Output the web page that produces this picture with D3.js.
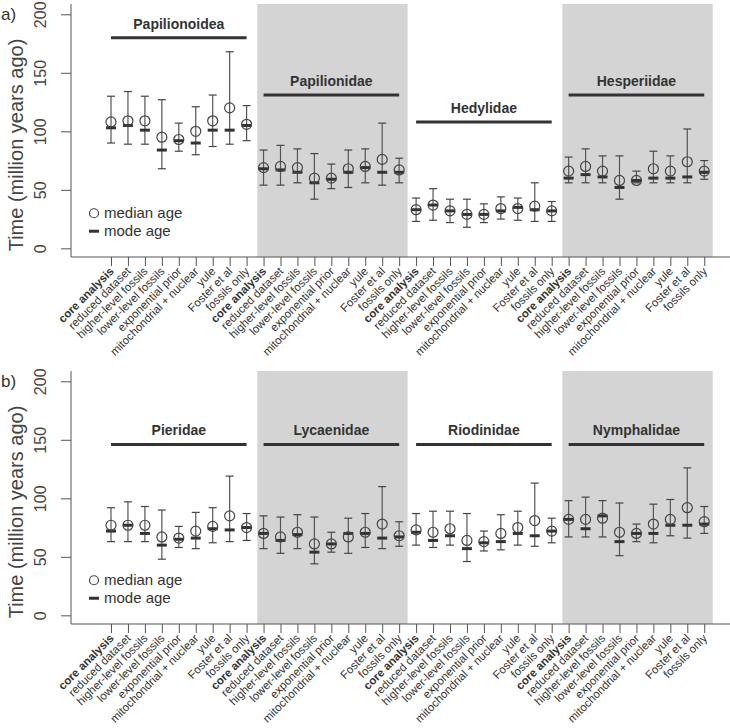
<!DOCTYPE html>
<html>
<head>
<meta charset="utf-8">
<script src="https://cdn.jsdelivr.net/npm/d3@7"></script>
<style>
  body { margin: 0; background: #fff; }
  svg { font-family: "Liberation Sans", Arial, Helvetica, sans-serif; }
</style>
</head>
<body>
<div id="chart"></div>
<script>
// analyses repeated for each clade
var analyses = ["core analysis", "reduced dataset", "higher-level fossils", "lower-level fossils",
    "exponential prior", "mitochondrial + nuclear", "yule", "Foster et al", "fossils only"];

var cladesA = ["Papilionoidea", "Papilionidae", "Hedylidae", "Hesperiidae"];
var cladesB = ["Pieridae", "Lycaenidae", "Riodinidae", "Nymphalidae"];
var shaded = [1, 3];               // clade index with grey background
var cladeBarA = [180, 131, 108, 131];
var cladeBarB = [146, 146, 146, 146];
var yTicks = [0, 50, 100, 150, 200];

// panel a) values, 9 analyses per clade
var medianA = [
    108, 109, 109, 95, 93, 100, 109, 120, 106,
    69, 70, 69, 60, 60, 68, 70, 76, 67,
    33, 37, 32, 29, 29, 34, 34, 36, 32,
    66, 70, 66, 58, 58, 68, 66, 74, 66
];
var modeA = [
    103, 105, 101, 84, 92, 90, 101, 101, 105,
    68, 67, 65, 56, 59, 65, 69, 65, 65,
    33, 37, 32, 29, 29, 32, 35, 33, 32,
    60, 63, 61, 52, 58, 60, 60, 61, 65
];
var lowerA = [
    90, 89, 89, 68, 83, 80, 87, 89, 92,
    54, 54, 56, 42, 51, 52, 56, 54, 56,
    23, 24, 22, 18, 22, 25, 24, 23, 23,
    56, 56, 56, 42, 56, 56, 56, 56, 59
];
var upperA = [
    130, 134, 130, 127, 107, 121, 131, 168, 122,
    84, 88, 85, 81, 72, 84, 85, 107, 77,
    43, 51, 42, 42, 38, 44, 43, 56, 40,
    78, 85, 79, 79, 66, 83, 79, 102, 75
];

// panel b) values
var medianB = [
    77, 77, 77, 67, 66, 72, 76, 85, 75,
    70, 67, 71, 61, 61, 67, 71, 78, 68,
    73, 71, 74, 64, 63, 70, 75, 81, 72,
    82, 82, 83, 71, 70, 78, 82, 92, 80
];
var modeB = [
    72, 77, 70, 60, 65, 66, 74, 73, 75,
    70, 64, 69, 54, 61, 70, 70, 66, 67,
    71, 64, 68, 57, 62, 63, 70, 68, 72,
    82, 74, 85, 63, 70, 70, 77, 77, 78
];
var lowerB = [
    63, 63, 63, 48, 58, 57, 62, 63, 64,
    57, 53, 57, 44, 54, 53, 58, 57, 59,
    60, 58, 60, 46, 55, 56, 60, 59, 62,
    67, 67, 67, 51, 63, 62, 68, 66, 70
];
var upperB = [
    92, 97, 93, 90, 76, 88, 92, 119, 87,
    85, 84, 86, 84, 71, 83, 87, 110, 80,
    87, 89, 89, 87, 72, 86, 89, 113, 83,
    98, 101, 98, 96, 78, 95, 99, 126, 93
];

var width = 730, height = 728;
var svg = d3.select("#chart").append("svg")
    .attr("width", width)
    .attr("height", height);

var x = d3.scaleLinear().domain([-2.36, 36.52]).range([71, 730]);

function drawPanel(opts) {
    var top = opts.top;
    var y = d3.scaleLinear().domain([-7.4, 208.8]).range([top + 253, top]);
    var g = svg.append("g");
    var n = analyses.length;

    // grey bands
    shaded.forEach(function (c) {
        g.append("rect")
            .attr("x", x(c * n - 0.37))
            .attr("width", x(c * n + n - 1 + 0.5) - x(c * n - 0.37))
            .attr("y", top)
            .attr("height", y(-7.4) - top)
            .attr("fill", "#d4d4d4");
    });

    // y axis
    var yAxis = d3.axisLeft(y).tickValues(yTicks).tickSize(10).tickFormat(d3.format("d"));
    var gY = g.append("g").attr("transform", "translate(71,0)").call(yAxis);
    gY.select(".domain").remove();
    gY.selectAll(".tick line").attr("stroke", "#555");
    gY.selectAll(".tick text")
        .attr("x", 0).attr("dy", 0)
        .attr("transform", "translate(-25,0) rotate(-90)")
        .attr("text-anchor", "middle")
        .attr("font-size", 16)
        .attr("fill", "#444");

    g.append("line")
        .attr("x1", 71).attr("x2", 71)
        .attr("y1", top).attr("y2", y(-7.4))
        .attr("stroke", "#555");

    // x axis
    var idx = d3.range(opts.median.length);
    var xAxis = d3.axisBottom(x).tickValues(idx).tickSize(9).tickFormat(function (i) { return analyses[i % n]; });
    var gX = g.append("g").attr("transform", "translate(0," + y(-7.4) + ")").call(xAxis);
    gX.select(".domain").remove();
    gX.selectAll(".tick line").attr("stroke", "#555");
    gX.selectAll(".tick text")
        .attr("x", 0).attr("y", 0).attr("dy", 0)
        .attr("transform", "translate(3,15) rotate(-45)")
        .attr("text-anchor", "end")
        .attr("font-size", 11.5)
        .attr("fill", "#333")
        .attr("font-weight", function (i) { return i % n === 0 ? "bold" : "normal"; });

    g.append("line")
        .attr("x1", 71).attr("x2", 730)
        .attr("y1", y(-7.4)).attr("y2", y(-7.4))
        .attr("stroke", "#555");

    // clade bars + names
    opts.clades.forEach(function (name, c) {
        var yy = y(opts.bars[c]);
        g.append("line")
            .attr("x1", x(c * n)).attr("x2", x(c * n + n - 1))
            .attr("y1", yy).attr("y2", yy)
            .attr("stroke", "#333").attr("stroke-width", 3);
        g.append("text")
            .attr("x", (x(c * n) + x(c * n + n - 1)) / 2)
            .attr("y", yy - 9)
            .attr("text-anchor", "middle")
            .attr("font-size", 14).attr("font-weight", "bold")
            .attr("fill", "#333")
            .text(name);
    });

    // error bars
    var pts = g.selectAll(".pt").data(idx).enter().append("g").attr("class", "pt");
    pts.append("line")
        .attr("x1", function (i) { return x(i); }).attr("x2", function (i) { return x(i); })
        .attr("y1", function (i) { return y(opts.lower[i]); })
        .attr("y2", function (i) { return y(opts.upper[i]); })
        .attr("stroke", "#555").attr("stroke-width", 1.2);
    ["lower", "upper"].forEach(function (k) {
        pts.append("line")
            .attr("x1", function (i) { return x(i) - 4; }).attr("x2", function (i) { return x(i) + 4; })
            .attr("y1", function (i) { return y(opts[k][i]); })
            .attr("y2", function (i) { return y(opts[k][i]); })
            .attr("stroke", "#444").attr("stroke-width", 1.2);
    });
    pts.append("line")
        .attr("x1", function (i) { return x(i) - 5; }).attr("x2", function (i) { return x(i) + 5; })
        .attr("y1", function (i) { return y(opts.mode[i]); })
        .attr("y2", function (i) { return y(opts.mode[i]); })
        .attr("stroke", "#333").attr("stroke-width", 3);
    pts.append("circle")
        .attr("cx", function (i) { return x(i); })
        .attr("cy", function (i) { return y(opts.median[i]); })
        .attr("r", 5)
        .attr("fill", "none")
        .attr("stroke", "#444").attr("stroke-width", 1.2);

    // legend
    var ly = y(30);
    g.append("circle").attr("cx", 94).attr("cy", ly).attr("r", 4.5)
        .attr("fill", "none").attr("stroke", "#444").attr("stroke-width", 1.2);
    g.append("text").attr("x", 104).attr("y", ly + 5).attr("font-size", 15).attr("fill", "#333").text("median age");
    g.append("line").attr("x1", 89).attr("x2", 99).attr("y1", ly + 18).attr("y2", ly + 18)
        .attr("stroke", "#333").attr("stroke-width", 3);
    g.append("text").attr("x", 104).attr("y", ly + 23).attr("font-size", 15).attr("fill", "#333").text("mode age");

    // y title and panel letter
    g.append("text")
        .attr("transform", "translate(23," + (top + 141) + ") rotate(-90)")
        .attr("text-anchor", "middle")
        .attr("font-size", 20).attr("fill", "#444")
        .text("Time (million years ago)");
    g.append("text")
        .attr("x", 1).attr("y", top + 16)
        .attr("font-size", 17).attr("fill", "#333")
        .text(opts.letter);
}

drawPanel({ top: 4, letter: "a)", clades: cladesA, bars: cladeBarA,
    median: medianA, mode: modeA, lower: lowerA, upper: upperA });
drawPanel({ top: 371, letter: "b)", clades: cladesB, bars: cladeBarB,
    median: medianB, mode: modeB, lower: lowerB, upper: upperB });
</script>
</body>
</html>
